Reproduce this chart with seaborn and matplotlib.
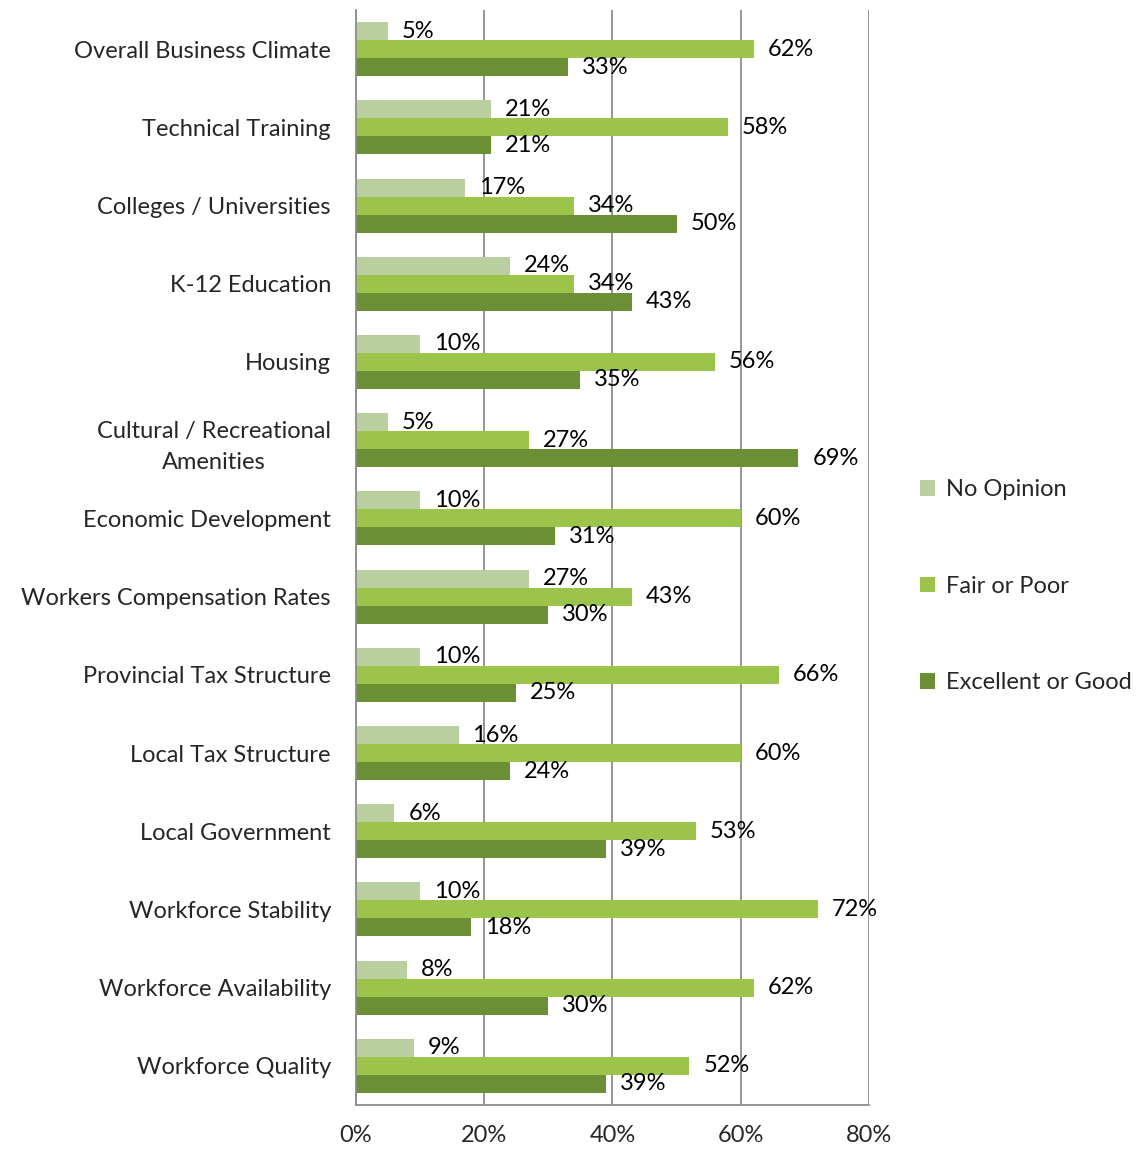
import pandas as pd
import matplotlib.pyplot as plt
import seaborn as sns

# categorias, de arriba hacia abajo
categorias = [
    'Overall Business Climate', 'Technical Training', 'Colleges / Universities',
    'K-12 Education', 'Housing', 'Cultural / Recreational\nAmenities',
    'Economic Development', 'Workers Compensation Rates', 'Provincial Tax Structure',
    'Local Tax Structure', 'Local Government', 'Workforce Stability',
    'Workforce Availability', 'Workforce Quality'
]
series = ['No Opinion', 'Fair or Poor', 'Excellent or Good']
no_opinion = [5, 21, 17, 24, 10, 5, 10, 27, 10, 16, 6, 10, 8, 9]
fair_poor = [62, 58, 34, 34, 56, 27, 60, 43, 66, 60, 53, 72, 62, 52]
excellent_good = [33, 21, 50, 43, 35, 69, 31, 30, 25, 24, 39, 18, 30, 39]
x_ticks = [0, 20, 40, 60, 80]
x_tick_labels = ['0%', '20%', '40%', '60%', '80%']

colores = ['#b9cf9f', '#9cc44b', '#6b8f34']

# formato largo para seaborn
data = pd.DataFrame({
    'Categoria': categorias * 3,
    'Serie': [s for s in series for _ in categorias],
    'Valor': no_opinion + fair_poor + excellent_good,
})

sns.set_style('white')
plt.rcParams['font.family'] = ['Lato', 'DejaVu Sans']
fs = 17

fig = plt.figure(figsize=(11.38, 11.54), dpi=100)
ax = fig.add_axes([0.3128, 0.0425, 0.4508, 0.9488])

sns.barplot(data=data, y='Categoria', x='Valor', hue='Serie', order=categorias,
            hue_order=series, palette=colores, orient='h', width=0.69,
            saturation=1, linewidth=0, ax=ax, legend=True)

# etiquetas de valor
for cont in ax.containers:
    ax.bar_label(cont, fmt='%.0f%%', padding=10, fontsize=fs, color='black')

ax.set_xlim(0, 80)
ax.set_ylim(len(categorias) - 0.5, -0.5)
ax.set_xticks(x_ticks)
ax.set_xticklabels(x_tick_labels, fontsize=fs)
ax.set_xlabel('')
ax.set_ylabel('')
ax.grid(axis='x', color='#8c8c8c', linewidth=1.3)
ax.set_axisbelow(True)

# etiquetas de categorias y marcas entre grupos
ax.set_yticks(range(len(categorias)))
ax.set_yticklabels(categorias, fontsize=fs, multialignment='center', linespacing=1.6)
ax.set_yticks([i - 0.5 for i in range(len(categorias) + 1)], minor=True)
ax.tick_params(axis='y', which='major', length=0, pad=18)
ax.tick_params(axis='y', which='minor', length=4.5, color='#8c8c8c', width=1.3, direction='out')
ax.tick_params(axis='x', length=4.5, color='#8c8c8c', width=1.3, direction='out', pad=10)

for lado in ['top', 'right']:
    ax.spines[lado].set_visible(False)
ax.spines['bottom'].set_color('#8c8c8c')
ax.spines['left'].set_color('#8c8c8c')
ax.spines['bottom'].set_linewidth(1.3)
ax.spines['left'].set_linewidth(1.3)

handles, labels = ax.get_legend_handles_labels()
ax.get_legend().remove()
fig.legend(handles, labels, loc='center left', bbox_to_anchor=(0.80, 0.492),
           frameon=False, fontsize=fs, handlelength=0.65, handleheight=0.65,
           handletextpad=0.45, labelspacing=3.2, borderaxespad=0)

plt.savefig('out.png', dpi=100)
